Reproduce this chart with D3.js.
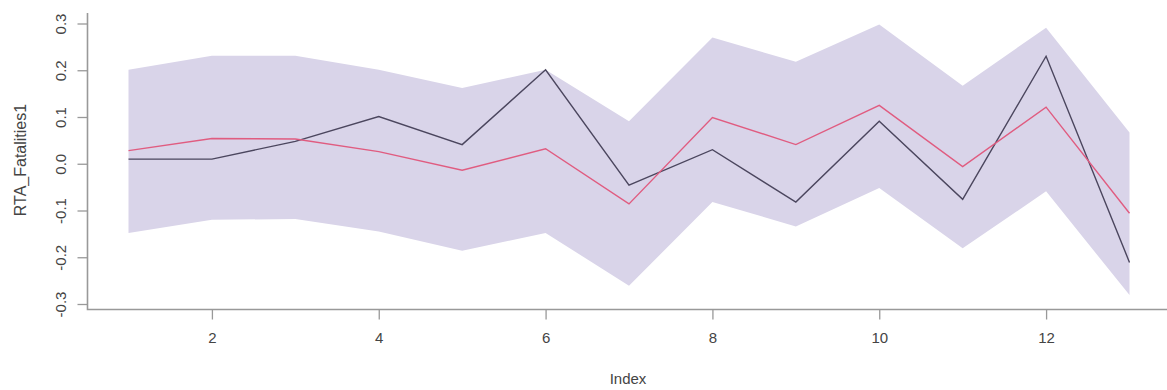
<!DOCTYPE html>
<html>
<head>
<meta charset="utf-8">
<script src="https://cdn.jsdelivr.net/npm/d3@7"></script>
<style>
  html, body { margin: 0; padding: 0; background: #ffffff; }
  svg { display: block; }
  text { font-family: "Liberation Sans", Arial, sans-serif; fill: #444; }
</style>
</head>
<body>
<svg id="chart" width="1167" height="390"></svg>
<script>
// Index positions along the x axis
const index = [1, 2, 3, 4, 5, 6, 7, 8, 9, 10, 11, 12, 13];
// Observed series (dark line)
const observed = [0.010, 0.010, 0.048, 0.101, 0.041, 0.201, -0.046, 0.030, -0.082, 0.091, -0.076, 0.230, -0.211];
// Fitted series (red line)
const fitted = [0.028, 0.054, 0.053, 0.026, -0.014, 0.032, -0.086, 0.099, 0.041, 0.125, -0.006, 0.121, -0.106];
// Interval band bounds
const upper = [0.201, 0.231, 0.231, 0.201, 0.162, 0.201, 0.091, 0.270, 0.218, 0.298, 0.167, 0.291, 0.067];
const lower = [-0.148, -0.120, -0.118, -0.145, -0.186, -0.148, -0.261, -0.082, -0.134, -0.052, -0.181, -0.059, -0.281];
// Axis ticks
const xTicks = [2, 4, 6, 8, 10, 12];
const yTicks = [-0.3, -0.2, -0.1, 0.0, 0.1, 0.2, 0.3];

const svg = d3.select("#chart");

const x = d3.scaleLinear().domain([1, 13]).range([128.5, 1129.5]);
const y = d3.scaleLinear().domain([-0.3, 0.3]).range([304, 23.5]);

const plotLeft = 87.5, plotTop = 13, plotBottom = 309.5;
const fontSize = "15px";

// Shaded interval band
const band = d3.area()
  .x((d, i) => x(index[i]))
  .y0((d, i) => y(lower[i]))
  .y1((d, i) => y(upper[i]));
svg.append("path")
  .datum(upper)
  .attr("d", band)
  .attr("fill", "#d9d4e9");

const line = vals => d3.line()
  .x((d, i) => x(index[i]))
  .y(d => y(d))(vals);

svg.append("path")
  .attr("d", line(observed))
  .attr("fill", "none")
  .attr("stroke", "#4b465e")
  .attr("stroke-width", 1.4);

svg.append("path")
  .attr("d", line(fitted))
  .attr("fill", "none")
  .attr("stroke", "#e05c80")
  .attr("stroke-width", 1.4);

// Axes frame (left and bottom)
svg.append("path")
  .attr("d", `M${plotLeft},${plotTop}V${plotBottom}H1167`)
  .attr("fill", "none")
  .attr("stroke", "#999")
  .attr("stroke-width", 1.6);

// Y axis, labels rotated parallel to the axis with plain hyphen minus
const fmtY = v => d3.format(".1f")(v).replace("\u2212", "-");
const yAxis = d3.axisLeft(y)
  .tickValues(yTicks)
  .tickSize(10)
  .tickPadding(0)
  .tickFormat(fmtY);
const gy = svg.append("g").attr("transform", `translate(${plotLeft},0)`).call(yAxis);
gy.select(".domain").remove();
gy.selectAll(".tick line").attr("stroke", "#999").attr("stroke-width", 1.3);
gy.selectAll(".tick text")
  .attr("x", 0).attr("dy", null)
  .attr("transform", "translate(-27,0) rotate(-90)")
  .attr("text-anchor", "middle")
  .attr("dominant-baseline", "central")
  .style("font-size", fontSize)
  .style("fill", "#444");

// X axis
const xAxis = d3.axisBottom(x)
  .tickValues(xTicks)
  .tickSize(10)
  .tickPadding(13)
  .tickFormat(d3.format("d"));
const gx = svg.append("g").attr("transform", `translate(0,${plotBottom})`).call(xAxis);
gx.select(".domain").remove();
gx.selectAll(".tick line").attr("stroke", "#999").attr("stroke-width", 1.3);
gx.selectAll(".tick text").style("font-size", fontSize).style("fill", "#444");

// Axis titles
svg.append("text")
  .attr("x", 628).attr("y", 384)
  .attr("text-anchor", "middle")
  .style("font-size", fontSize)
  .text("Index");

svg.append("text")
  .attr("transform", "translate(20,160) rotate(-90)")
  .attr("text-anchor", "middle")
  .attr("dominant-baseline", "central")
  .style("font-size", "16px")
  .text("RTA_Fatalities1");
</script>
</body>
</html>
